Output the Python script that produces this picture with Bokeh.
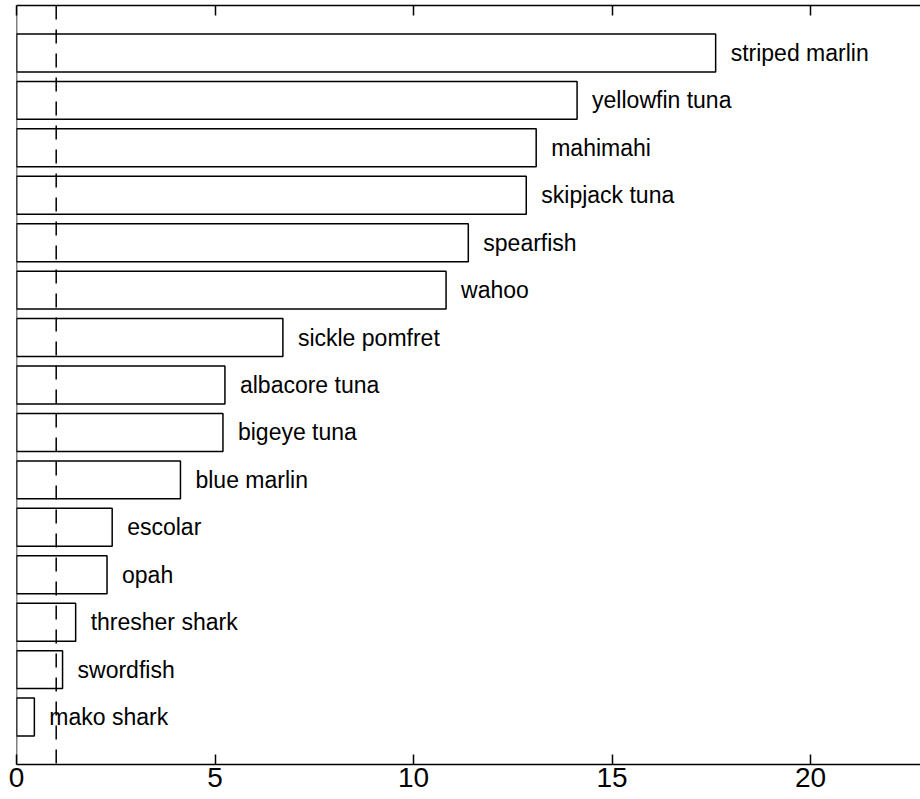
from bokeh.plotting import figure
from bokeh.models import Span, LinearAxis, FixedTicker, Range1d, ColumnDataSource
from bokeh.embed import file_html
from bokeh.resources import INLINE
from bokeh.core.properties import value

species = ["striped marlin", "yellowfin tuna", "mahimahi", "skipjack tuna", "spearfish",
           "wahoo", "sickle pomfret", "albacore tuna", "bigeye tuna", "blue marlin",
           "escolar", "opah", "thresher shark", "swordfish", "mako shark"]
values = [17.61, 14.12, 13.09, 12.84, 11.38, 10.82, 6.71, 5.25, 5.20, 4.13,
          2.41, 2.28, 1.49, 1.16, 0.45]
x_ticks = [0, 5, 10, 15, 20]
reference_value = 1

n = len(species)
ypos = [n - i for i in range(n)]
src = ColumnDataSource(dict(name=species, val=values, y=ypos))

FONT = "Liberation Sans"

p = figure(width=920, height=799, output_backend="svg", toolbar_location=None,
           x_range=Range1d(0, 22.77), y_range=Range1d(0, n + 1),
           min_border_left=16, min_border_right=0, min_border_top=5, min_border_bottom=35,
           x_axis_location=None, y_axis_location=None)
p.outline_line_color = None
p.xgrid.visible = False
p.ygrid.visible = False
p.background_fill_color = "white"
p.border_fill_color = "white"

p.hbar(y="y", left=0, right="val", height=0.8, source=src,
       fill_color="white", line_color="black", line_width=1.5)

p.text(x="val", y="y", text="name", source=src, x_offset=15,
       text_baseline="middle", text_align="left",
       text_font=value(FONT), text_font_size="23px", text_color="black")

p.add_layout(Span(location=reference_value, dimension="height", line_color="black",
                  line_width=1.5, line_dash="14 10"))
p.add_layout(Span(location=0, dimension="height", line_color="black", line_width=1.5))

bottom = LinearAxis(ticker=FixedTicker(ticks=x_ticks))
bottom.major_tick_in = 10
bottom.major_tick_out = 0
bottom.minor_tick_in = 0
bottom.minor_tick_out = 0
bottom.major_tick_line_width = 1.5
bottom.axis_line_width = 1.5
bottom.major_label_standoff = 3
bottom.major_label_text_font = FONT
bottom.major_label_text_font_size = "28px"
bottom.major_label_text_color = "black"
p.add_layout(bottom, "below")

top = LinearAxis(ticker=FixedTicker(ticks=x_ticks))
top.major_tick_in = 10
top.major_tick_out = 0
top.minor_tick_in = 0
top.minor_tick_out = 0
top.major_tick_line_width = 1.5
top.axis_line_width = 1.5
top.major_label_standoff = 0
top.major_label_text_font_size = "0px"
top.major_label_text_alpha = 0
p.add_layout(top, "above")

open("out.html", "w").write(file_html(p, INLINE))
